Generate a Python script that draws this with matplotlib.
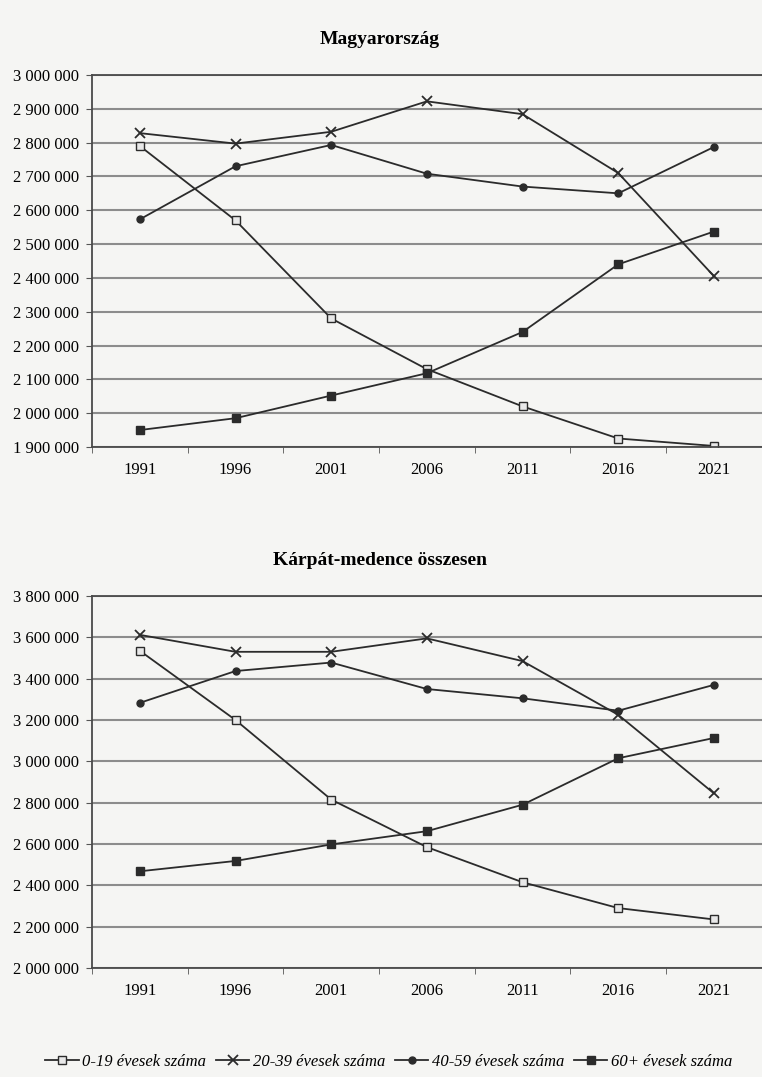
import numpy as np
import matplotlib.pyplot as plt
from matplotlib.ticker import FuncFormatter

plt.rcParams['font.family'] = ['Liberation Serif', 'DejaVu Serif']

years = ['1991', '1996', '2001', '2006', '2011', '2016', '2021']

# Magyarország
hu_0_19 = [2790000, 2570000, 2280000, 2130000, 2020000, 1925000, 1903000]
hu_20_39 = [2828000, 2797000, 2832000, 2922000, 2884000, 2710000, 2405000]
hu_40_59 = [2573000, 2730000, 2793000, 2708000, 2670000, 2650000, 2787000]
hu_60 = [1950000, 1985000, 2052000, 2118000, 2240000, 2440000, 2537000]

# Kárpát-medence összesen
km_0_19 = [3535000, 3200000, 2815000, 2585000, 2415000, 2290000, 2235000]
km_20_39 = [3612000, 3530000, 3530000, 3595000, 3485000, 3225000, 2845000]
km_40_59 = [3283000, 3437000, 3478000, 3350000, 3305000, 3245000, 3370000]
km_60 = [2468000, 2518000, 2598000, 2662000, 2790000, 3015000, 3113000]

labels = ['0-19 évesek száma', '20-39 évesek száma',
          '40-59 évesek száma', '60+ évesek száma']

bg = '#f5f5f3'
ink = '#2b2b2b'


def fmt(v, pos):
    return f'{int(round(v)):,}'.replace(',', ' ')


def draw(ax, series, title, ymin, ymax, step):
    x = np.arange(len(years))
    styles = [
        dict(marker='s', markerfacecolor='#e8e8e8', markersize=6),
        dict(marker='x', markersize=7, markeredgewidth=1.3),
        dict(marker='o', markerfacecolor=ink, markersize=5),
        dict(marker='s', markerfacecolor=ink, markersize=6),
    ]
    for s, lab, st in zip(series, labels, styles):
        ax.plot(x, s, color=ink, linewidth=1.3, markeredgecolor=ink, label=lab, **st)
    ax.set_xlim(-0.5, len(years) - 0.5)
    ax.set_ylim(ymin, ymax)
    ax.set_yticks(np.arange(ymin, ymax + 1, step))
    ax.yaxis.set_major_formatter(FuncFormatter(fmt))
    ax.grid(axis='y', color='#8c8c8c', linewidth=1.5)
    ax.set_axisbelow(True)
    ax.set_xticks(x)
    ax.set_xticklabels(years)
    ax.set_xticks(np.arange(-0.5, len(years), 1), minor=True)
    ax.tick_params(axis='x', which='major', length=0, pad=11, labelsize=12)
    ax.tick_params(axis='x', which='minor', length=4, color='#555555')
    ax.tick_params(axis='y', length=4, color='#555555', labelsize=12, pad=5)
    ax.set_facecolor(bg)
    for sp in ax.spines.values():
        sp.set_color('#4a4a4a')
        sp.set_linewidth(1.3)
    ax.spines['right'].set_visible(False)
    ax.set_title(title, fontsize=14, fontweight='bold', pad=22, x=0.43)


fig = plt.figure(figsize=(7.62, 10.77), dpi=100)
fig.patch.set_facecolor(bg)

ax1 = fig.add_axes([0.1207, 0.585, 0.879, 0.3454])
draw(ax1, [hu_0_19, hu_20_39, hu_40_59, hu_60], 'Magyarország', 1900000, 3000000, 100000)

ax2 = fig.add_axes([0.1207, 0.1012, 0.879, 0.3454])
draw(ax2, [km_0_19, km_20_39, km_40_59, km_60], 'Kárpát-medence összesen', 2000000, 3800000, 200000)

handles, labs = ax2.get_legend_handles_labels()
fig.legend(handles, labs, loc='center', bbox_to_anchor=(0.51, 0.014), ncol=4,
           frameon=False, handlelength=2.0, handletextpad=0.2, columnspacing=0.6,
           prop={'size': 12, 'style': 'italic'})

fig.savefig('out.png', dpi=100, facecolor=bg)
